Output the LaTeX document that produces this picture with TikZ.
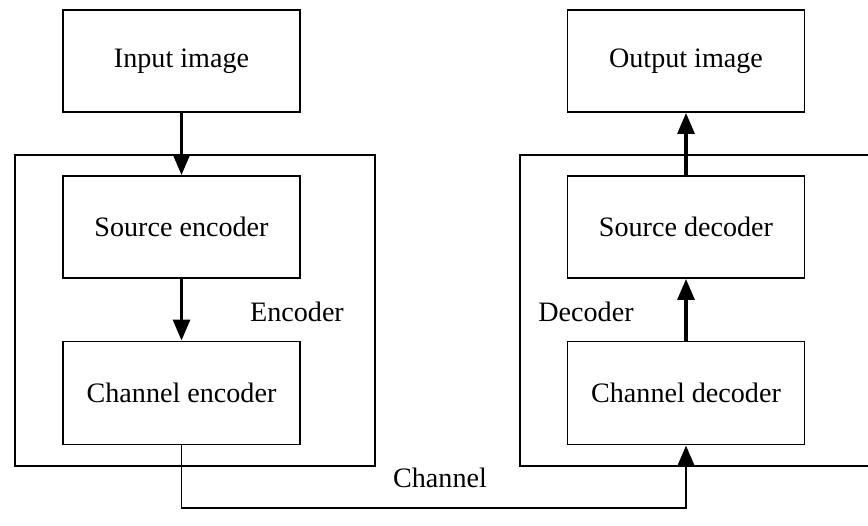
\documentclass[tikz,border=0pt]{standalone}
\usepackage{fontspec}
\setmainfont{Liberation Serif}
\usetikzlibrary{arrows.meta,positioning,calc}

\tikzset{
  blk/.style={draw,line width=1.1pt,minimum width=4.74cm,minimum height=2.04cm,font=\fontsize{16}{19}\selectfont},
  outer/.style={draw,line width=1.1pt,inner sep=0pt},
  lbl/.style={font=\fontsize{16}{19}\selectfont},
  flow/.style={line width=1.8pt,-{Triangle[length=4.2mm,width=3.4mm]}}
}

\begin{document}
\begin{tikzpicture}
    \useasboundingbox (0,0) rectangle (17.36,10.52);
    \clip (0,0) rectangle (17.36,10.52);
    % outer boxes
    \node [outer,minimum width=7.2cm,minimum height=6.22cm] (enc) at (3.9,4.31) {};
    \node [outer,minimum width=7.6cm,minimum height=6.22cm] (dec) at (14.2,4.31) {};
    % blocks
    \node [blk] (in) at (3.63,9.30) {Input image};
    \node [blk] (srcenc) at (3.63,5.98) {Source encoder};
    \node [blk,minimum height=2.06cm] (chenc) at (3.63,2.66) {Channel encoder};
    \node [blk] (out) at (13.72,9.30) {Output image};
    \node [blk] (srcdec) at (13.72,5.98) {Source decoder};
    \node [blk,minimum height=2.06cm] (chdec) at (13.72,2.66) {Channel decoder};
    % labels
    \node [lbl] (enclbl) at (5.94,4.28) {Encoder};
    \node [lbl] (declbl) at (11.72,4.28) {Decoder};
    \node [lbl] (chlbl) at (8.8,0.96) {Channel};
    \coordinate (chbot) at (8.8,0.36);
    % arrows
    \draw [flow] (in) to (srcenc);
    \draw [flow] (srcenc) to (chenc);
    \draw [flow] (chdec) to (srcdec);
    \draw [flow] (srcdec) to (out);
    \draw [line width=1.1pt] (chenc.south) |- (chbot);
    \draw [line width=1.1pt] (chbot) -| ($(chdec.south)+(0,-0.4)$);
    \draw [flow] ($(chdec.south)+(0,-0.42)$) to (chdec.south);
\end{tikzpicture}
\end{document}
